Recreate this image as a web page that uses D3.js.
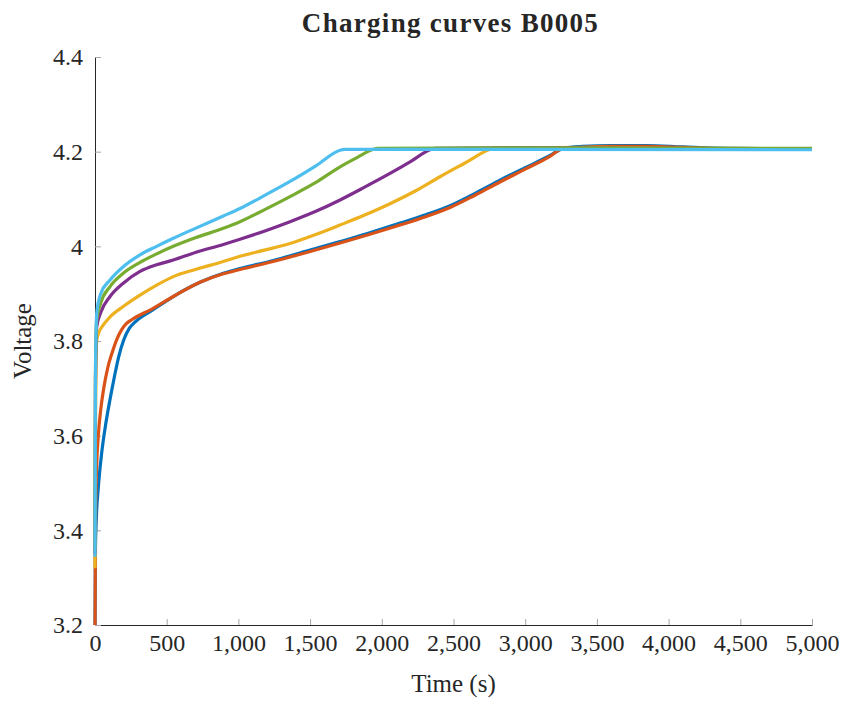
<!DOCTYPE html>
<html>
<head>
<meta charset="utf-8">
<script src="https://cdn.jsdelivr.net/npm/d3@7"></script>
<style>
  html, body { margin: 0; padding: 0; background: #fff; }
  svg text { font-family: "Liberation Serif", "Times New Roman", "DejaVu Serif", serif; fill: #262626; }
</style>
</head>
<body>
<div id="chart"></div>
<script>
/* ── Data: [time s, voltage V] ──────────────────────────────────────── */
const cycle1 = [[0,3.19],[3,3.36],[10,3.43],[23,3.49],[46,3.562],[75,3.625],[105,3.677],[135,3.724],
  [163,3.764],[200,3.802],[240,3.827],[279,3.840],[400,3.865],[546,3.894],[732,3.924],[895,3.943],
  [1011,3.953],[1243,3.970],[1476,3.990],[1709,4.010],[1900,4.027],[2127,4.049],[2300,4.066],
  [2476,4.086],[2650,4.112],[2824,4.140],[3000,4.166],[3173,4.192],[3266,4.207],[3400,4.211],
  [3600,4.213],[3850,4.213],[4100,4.210],[4400,4.207],[5000,4.206]];
const cycle2 = [[0,3.18],[3,3.40],[10,3.52],[23,3.60],[40,3.655],[58,3.695],[90,3.745],[116,3.772],
  [150,3.802],[186,3.824],[220,3.837],[256,3.845],[400,3.868],[546,3.894],[732,3.924],[895,3.942],
  [1011,3.951],[1243,3.968],[1476,3.987],[1709,4.007],[1900,4.024],[2127,4.045],[2300,4.062],
  [2476,4.082],[2650,4.108],[2824,4.136],[3000,4.163],[3173,4.190],[3250,4.205],[3400,4.209],
  [3600,4.211],[3850,4.211],[4100,4.209],[4400,4.206],[5000,4.205]];
const cycle3 = [[0,3.32],[3,3.60],[8,3.76],[12,3.802],[30,3.82],[58,3.834],[105,3.851],[197,3.873],
  [314,3.897],[430,3.918],[546,3.936],[700,3.951],[895,3.968],[1011,3.979],[1180,3.992],[1360,4.006],
  [1540,4.025],[1709,4.045],[1880,4.066],[2057,4.090],[2240,4.118],[2406,4.147],[2580,4.176],
  [2755,4.205],[2790,4.208],[3500,4.209],[4000,4.207],[5000,4.206]];
const cycle4 = [[0,3.35],[3,3.70],[8,3.80],[12,3.830],[40,3.86],[105,3.894],[197,3.922],[314,3.947],
  [430,3.961],[546,3.971],[700,3.987],[895,4.004],[1011,4.015],[1180,4.032],[1360,4.052],
  [1540,4.074],[1709,4.098],[1880,4.125],[2057,4.154],[2200,4.179],[2336,4.204],[2370,4.207],
  [3000,4.208],[4000,4.207],[5000,4.206]];
const cycle5 = [[0,3.36],[3,3.72],[8,3.82],[12,3.844],[40,3.88],[105,3.915],[197,3.943],[314,3.966],
  [430,3.984],[546,4.0],[700,4.018],[895,4.038],[1011,4.052],[1180,4.077],[1360,4.105],[1540,4.135],
  [1709,4.168],[1830,4.188],[1941,4.205],[1970,4.207],[3000,4.208],[5000,4.207]];
const cycle6 = [[0,3.344],[3,3.72],[8,3.83],[12,3.859],[40,3.90],[105,3.929],[197,3.957],[314,3.982],
  [430,4.0],[546,4.017],[700,4.038],[895,4.064],[1011,4.080],[1180,4.107],[1360,4.137],[1540,4.170],
  [1709,4.203],[1740,4.205],[5000,4.204]];

const CYCLES  = [cycle1, cycle2, cycle3, cycle4, cycle5, cycle6];
const COLORS  = ['#0072BD', '#D95319', '#EDB120', '#7E2F8E', '#77AC30', '#4DBEEE'];
const X_TICKS = [0, 500, 1000, 1500, 2000, 2500, 3000, 3500, 4000, 4500, 5000];
const Y_TICKS = [3.2, 3.4, 3.6, 3.8, 4.0, 4.2, 4.4];

/* ── Layout ──────────────────────────────────────────────────────────── */
const W = 845, H = 702;
const ML = 95, MR = 33, MT = 57, MB = 77;
const w = W - ML - MR, h = H - MT - MB;

const svg = d3.select('#chart').append('svg')
  .attr('width', W).attr('height', H)
  .attr('viewBox', `0 0 ${W} ${H}`);

const g = svg.append('g').attr('transform', `translate(${ML},${MT})`);

const x = d3.scaleLinear().domain([0, 5000]).range([0, w]);
const y = d3.scaleLinear().domain([3.2, 4.4]).range([h, 0]);

svg.append('defs').append('clipPath').attr('id', 'plot-clip')
  .append('rect').attr('x', -3).attr('y', 0).attr('width', w + 3).attr('height', h);

/* ── Axes ────────────────────────────────────────────────────────────── */
const fmtX = d3.format(',');
const fmtY = d => (d === 4 ? '4' : d3.format('.1f')(d));

const xAxis = g.append('g').attr('transform', `translate(0,${h})`)
  .call(d3.axisBottom(x).tickValues(X_TICKS).tickFormat(fmtX).tickSizeInner(-6).tickSizeOuter(0).tickPadding(9));
const yAxis = g.append('g')
  .call(d3.axisLeft(y).tickValues(Y_TICKS).tickFormat(fmtY).tickSizeInner(-6).tickSizeOuter(0).tickPadding(12));

[xAxis, yAxis].forEach(ax => {
  ax.select('.domain').attr('stroke', '#262626').attr('stroke-width', 1);
  ax.selectAll('.tick line').attr('stroke', '#a6a6a6');
  ax.selectAll('.tick text').attr('font-size', 24);
});

/* ── Curves ──────────────────────────────────────────────────────────── */
const line = d3.line()
  .x(d => x(d[0]))
  .y(d => y(d[1]))
  .curve(d3.curveMonotoneX);

g.append('g').attr('clip-path', 'url(#plot-clip)')
  .selectAll('path')
  .data(CYCLES)
  .join('path')
  .attr('d', line)
  .attr('fill', 'none')
  .attr('stroke', (_, i) => COLORS[i])
  .attr('stroke-width', 3.2)
  .attr('stroke-linejoin', 'round');

/* ── Labels ──────────────────────────────────────────────────────────── */
svg.append('text')
  .attr('x', ML + w / 2 - 3).attr('y', 32)
  .attr('text-anchor', 'middle')
  .attr('font-size', 27).attr('font-weight', 'bold')
  .attr('letter-spacing', 1.3)
  .text('Charging curves B0005');

svg.append('text')
  .attr('x', ML + w / 2).attr('y', 692)
  .attr('text-anchor', 'middle')
  .attr('font-size', 25)
  .text('Time (s)');

svg.append('text')
  .attr('transform', `translate(31,${MT + h / 2}) rotate(-90)`)
  .attr('text-anchor', 'middle')
  .attr('font-size', 25)
  .text('Voltage');
</script>
</body>
</html>
